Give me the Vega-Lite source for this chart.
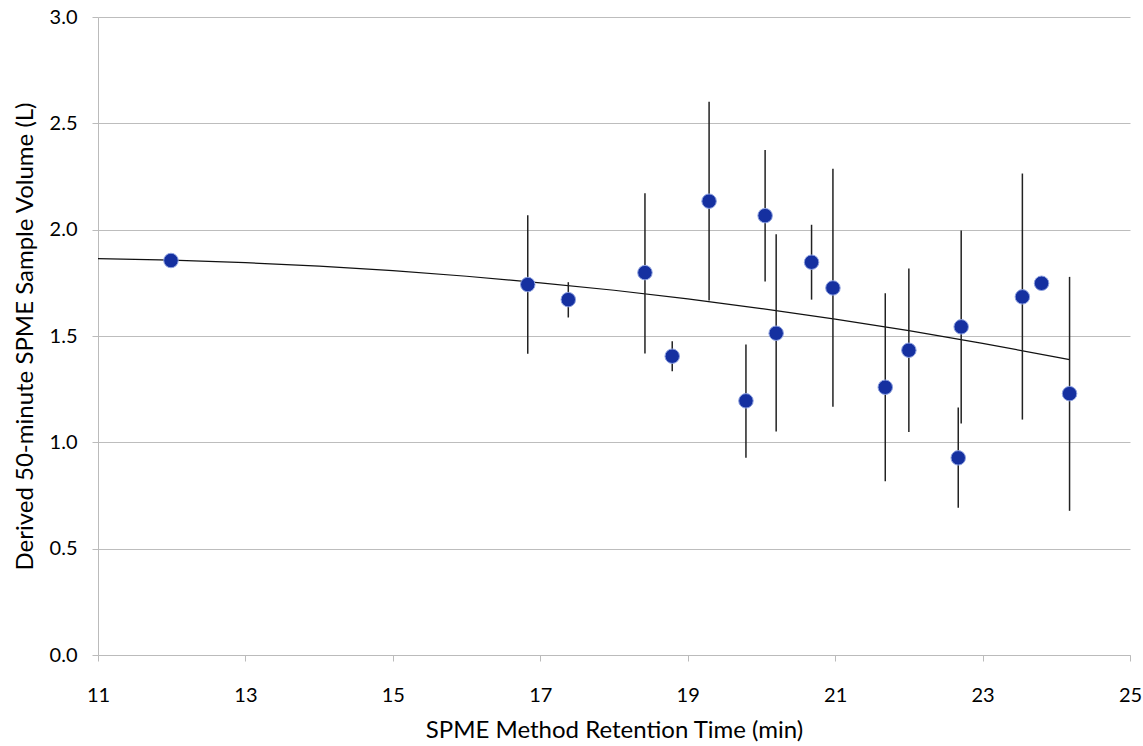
{
  "$schema": "https://vega.github.io/schema/vega-lite/v6.json",
  "width": 1032,
  "height": 638,
  "autosize": "none",
  "padding": {"left": 98, "top": 17, "right": 13, "bottom": 91},
  "background": "white",
  "config": {
    "view": {"stroke": null},
    "font": "Lato",
    "axis": {
      "labelFont": "Lato",
      "titleFont": "Lato",
      "labelFontSize": 20,
      "titleFontSize": 24,
      "labelColor": "#000",
      "titleColor": "#000",
      "titleFontWeight": "normal",
      "domainColor": "#bbbbbb",
      "tickColor": "#bbbbbb",
      "gridColor": "#bdbdbd",
      "tickSize": 6,
      "labelFlush": false
    }
  },
  "datasets": {
    "pts": [
      {"t": 11.99, "v": 1.855},
      {"t": 16.83, "v": 1.742, "lo": 1.416, "hi": 2.068},
      {"t": 17.38, "v": 1.671, "lo": 1.587, "hi": 1.753},
      {"t": 18.42, "v": 1.798, "lo": 1.418, "hi": 2.171},
      {"t": 18.79, "v": 1.405, "lo": 1.334, "hi": 1.475},
      {"t": 19.29, "v": 2.134, "lo": 1.667, "hi": 2.601},
      {"t": 19.79, "v": 1.195, "lo": 0.927, "hi": 1.46},
      {"t": 20.05, "v": 2.066, "lo": 1.756, "hi": 2.375},
      {"t": 20.2, "v": 1.513, "lo": 1.051, "hi": 1.978},
      {"t": 20.68, "v": 1.847, "lo": 1.671, "hi": 2.023},
      {"t": 20.97, "v": 1.726, "lo": 1.167, "hi": 2.287},
      {"t": 21.68, "v": 1.259, "lo": 0.817, "hi": 1.701},
      {"t": 22.0, "v": 1.433, "lo": 1.049, "hi": 1.817},
      {"t": 22.67, "v": 0.927, "lo": 0.692, "hi": 1.164},
      {"t": 22.71, "v": 1.543, "lo": 1.088, "hi": 1.996},
      {"t": 23.54, "v": 1.684, "lo": 1.107, "hi": 2.264},
      {"t": 23.8, "v": 1.748},
      {"t": 24.18, "v": 1.229, "lo": 0.678, "hi": 1.778}
    ],
    "trend": [
      {"t": 11, "v": 1.864},
      {"t": 12, "v": 1.857},
      {"t": 13, "v": 1.845},
      {"t": 14, "v": 1.829},
      {"t": 15, "v": 1.807},
      {"t": 16, "v": 1.781},
      {"t": 17, "v": 1.75},
      {"t": 18, "v": 1.715},
      {"t": 19, "v": 1.675},
      {"t": 20, "v": 1.629},
      {"t": 21, "v": 1.579},
      {"t": 22, "v": 1.525},
      {"t": 23, "v": 1.465},
      {"t": 24, "v": 1.401},
      {"t": 24.18, "v": 1.389}
    ]
  },
  "layer": [
    {
      "data": {"name": "trend"},
      "mark": {"type": "line", "color": "#111", "strokeWidth": 1.2, "interpolate": "monotone"},
      "encoding": {
        "x": {
          "field": "t", "type": "quantitative",
          "scale": {"domain": [11, 25], "nice": false},
          "axis": {
            "values": [11, 13, 15, 17, 19, 21, 23, 25],
            "format": "d",
            "grid": false,
            "labelFlush": false,
            "title": "SPME Method Retention Time (min)",
            "labelPadding": 24,
            "titlePadding": 13
          }
        },
        "y": {
          "field": "v", "type": "quantitative",
          "scale": {"domain": [0, 3], "nice": false},
          "axis": {
            "values": [0, 0.5, 1, 1.5, 2, 2.5, 3],
            "format": ".1f",
            "grid": true,
            "labelFlush": false,
            "title": "Derived 50-minute SPME Sample Volume (L)",
            "labelPadding": 15,
            "titlePadding": 12
          }
        }
      }
    },
    {
      "data": {"name": "pts"},
      "transform": [{"filter": "isValid(datum.lo)"}],
      "mark": {"type": "rule", "color": "#222", "strokeWidth": 1.5},
      "encoding": {
        "x": {"field": "t", "type": "quantitative"},
        "y": {"field": "lo", "type": "quantitative"},
        "y2": {"field": "hi"}
      }
    },
    {
      "data": {"name": "pts"},
      "mark": {"type": "circle", "size": 210, "color": "#1530a0", "opacity": 1, "stroke": "#8fa2e0", "strokeWidth": 1},
      "encoding": {
        "x": {"field": "t", "type": "quantitative"},
        "y": {"field": "v", "type": "quantitative"}
      }
    }
  ]
}
